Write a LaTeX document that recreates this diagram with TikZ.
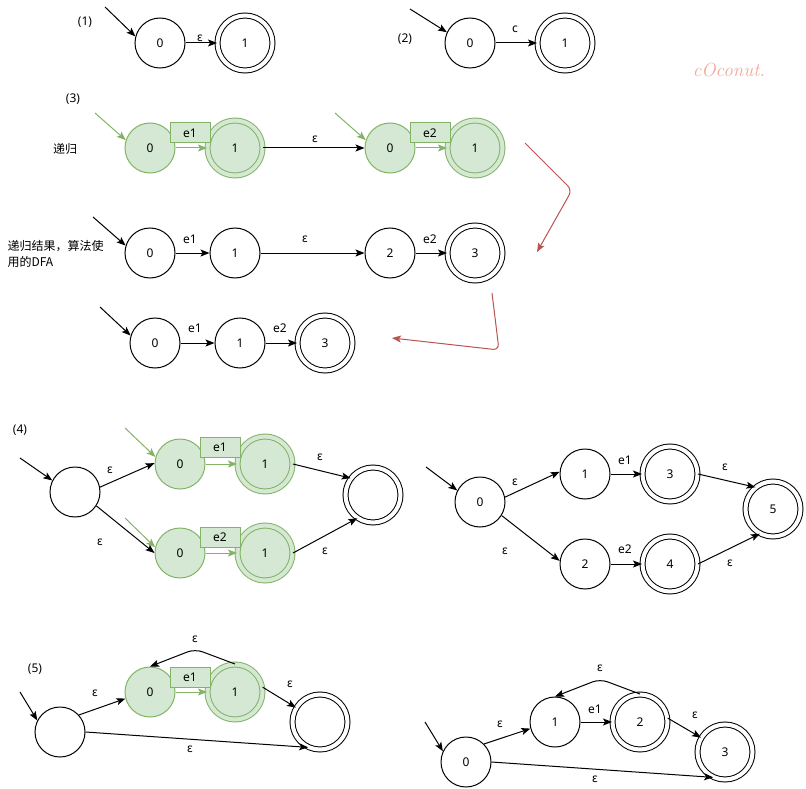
\documentclass[tikz,border=0pt]{standalone}
\usepackage{fontspec}
\setmainfont{Noto Sans}
\newfontfamily\cjk{Noto Sans CJK SC}
\newfontfamily\wmfont{Latin Modern Roman}
\usetikzlibrary{arrows.meta}
\definecolor{gfill}{HTML}{D5E8D4}
\definecolor{gline}{HTML}{82B366}
\definecolor{rline}{HTML}{B85450}
\definecolor{wm}{HTML}{F2A89A}
\begin{document}
\begin{tikzpicture}[x=1pt,y=-1pt,line width=1pt,
  font=\fontsize{12}{14}\selectfont,
  >={Stealth[length=9pt,width=7pt,inset=2pt]},
  st/.style={circle,draw,minimum size=50pt,inner sep=0pt},
  acc/.style={circle,draw,double,double distance=4pt,minimum size=55pt,inner sep=0pt},
  gst/.style={st,fill=gfill,draw=gline},
  gacc/.style={acc,fill=gfill,draw=gline,double=gfill},
  gbox/.style={rectangle,draw=gline,fill=gfill,minimum width=40pt,minimum height=20pt,inner sep=0pt},
  lbl/.style={inner sep=0pt},
  ar/.style={->},
  gar/.style={->,draw=gline},
  rar/.style={->,draw=rline,rounded corners=6pt}]
\useasboundingbox (0,0) rectangle (806,789);

% (1)
\node[lbl] (l1) at (85,22) {(1)};
\node[st] (a0) at (160,43) {0};
\node[acc] (a1) at (245,43) {1};
\coordinate (a0i) at (105,7);
\draw[ar] (a0i) -- (a0.165);
\draw[ar] (a0) -- (a1);
\node[lbl] (ae) at (200,38) {ε};

% (2)
\node[lbl] (l2) at (405,39) {(2)};
\node[st] (b0) at (470,43) {0};
\node[acc] (b1) at (565,43) {1};
\coordinate (b0i) at (410,9);
\draw[ar] (b0i) -- (b0.155);
\draw[ar] (b0) -- (b1);
\node[lbl] (bc) at (515,29) {c};

\node[lbl,text=wm,font=\wmfont\itshape\fontsize{19}{22}\selectfont] (wmk) at (729,70) {cOconut.};

% (3)
\node[lbl] (l3) at (73,99) {(3)};
\node[lbl,font=\cjk\fontsize{12}{14}\selectfont] (t1) at (65,149) {递归};
\node[gst] (c0) at (150,148) {0};
\node[gacc] (c1) at (235,148) {1};
\draw[gar] (c0) -- (c1);
\node[gbox] (c01) at (190,133) {e1};
\coordinate (c0i) at (95,113);
\draw[gar] (c0i) -- (c0.162);
\node[gst] (d0) at (390,148) {0};
\node[gacc] (d1) at (475,148) {1};
\draw[gar] (d0) -- (d1);
\node[gbox] (d01) at (430,133) {e2};
\coordinate (d0i) at (335,113);
\draw[gar] (d0i) -- (d0.162);
\draw[ar] (c1) -- (d0);
\node[lbl] (ce) at (315,139) {ε};

\node[lbl,font=\cjk\fontsize{12}{16}\selectfont,align=left,anchor=west] (t2) at (7,254) {递归结果，算法使\\用的DFA};
\node[st] (e0) at (150,253) {0};
\node[st] (e1) at (235,253) {1};
\node[st] (e2) at (390,253) {2};
\node[acc] (e3) at (475,253) {3};
\coordinate (e0i) at (93,217);
\draw[ar] (e0i) -- (e0.163);
\draw[ar] (e0) -- (e1);
\draw[ar] (e1) -- (e2);
\draw[ar] (e2) -- (e3);
\node[lbl] (ee1) at (190,239) {e1};
\node[lbl] (eeps) at (305,239) {ε};
\node[lbl] (ee2) at (430,239) {e2};

\node[st] (f0) at (155,343) {0};
\node[st] (f1) at (240,343) {1};
\node[acc] (f3) at (325,343) {3};
\coordinate (f0i) at (100,307);
\draw[ar] (f0i) -- (f0.163);
\draw[ar] (f0) -- (f1);
\draw[ar] (f1) -- (f3);
\node[lbl] (fe1) at (195,328) {e1};
\node[lbl] (fe2) at (280,328) {e2};

\coordinate (r1a) at (525,143);
\coordinate (r1b) at (572,190);
\coordinate (r1c) at (537,252);
\draw[rar] (r1a) -- (r1b) -- (r1c);
\coordinate (r2a) at (492,293);
\coordinate (r2b) at (499,350);
\coordinate (r2c) at (392,338);
\draw[rar] (r2a) -- (r2b) -- (r2c);

% (4) left
\node[lbl] (l4) at (20,430) {(4)};
\node[st] (s4) at (75,492) {};
\coordinate (s4i) at (20,458);
\draw[ar] (s4i) -- (s4.153);
\node[gst] (g0u) at (180,464) {0};
\node[gacc] (g1u) at (265,464) {1};
\draw[gar] (g0u) -- (g1u);
\node[gbox] (gbu) at (220,447) {e1};
\coordinate (g0ui) at (125,428);
\draw[gar] (g0ui) -- (g0u.164);
\node[gst] (g0l) at (180,553) {0};
\node[gacc] (g1l) at (265,553) {1};
\draw[gar] (g0l) -- (g1l);
\node[gbox] (gbl) at (220,537) {e2};
\coordinate (g0li) at (125,518);
\draw[gar] (g0li) -- (g0l.167);
\node[acc] (f4) at (373,495) {};
\draw[ar] (s4.11) -- (g0u.178);
\draw[ar] (s4.-33) -- (g0l.180);
\draw[ar] (g1u.east) -- (f4.143);
\draw[ar] (g1l.east) -- (f4.236);
\node[lbl] (ge1) at (110,470) {ε};
\node[lbl] (ge2) at (100,542) {ε};
\node[lbl] (ge3) at (320,457) {ε};
\node[lbl] (ge4) at (325,551) {ε};

% (4) right
\node[st] (h0) at (480,502) {0};
\node[st] (h1) at (585,474) {1};
\node[acc] (h3) at (670,474) {3};
\node[st] (h2) at (585,564) {2};
\node[acc] (h4) at (670,564) {4};
\node[acc] (h5) at (773,509) {5};
\coordinate (h0i) at (426,467);
\draw[ar] (h0i) -- (h0.153);
\draw[ar] (h0.11) -- (h1.175);
\draw[ar] (h0.-32) -- (h2.173);
\draw[ar] (h1) -- (h3);
\draw[ar] (h2) -- (h4);
\draw[ar] (h3.east) -- (h5.129);
\draw[ar] (h4.east) -- (h5.242);
\node[lbl] (he1) at (515,482) {ε};
\node[lbl] (he2) at (505,551) {ε};
\node[lbl] (he3) at (625,460) {e1};
\node[lbl] (he4) at (625,549) {e2};
\node[lbl] (he5) at (725,467) {ε};
\node[lbl] (he6) at (730,563) {ε};

% (5) left
\node[lbl] (l5) at (35,669) {(5)};
\node[st] (s5) at (60,732) {};
\coordinate (s5i) at (20,692);
\draw[ar] (s5i) -- (s5.153);
\node[gst] (k0) at (150,692) {0};
\node[gacc] (k1) at (235,692) {1};
\draw[gar] (k0) -- (k1);
\node[gbox] (kb) at (190,677) {e1};
\node[acc] (k2) at (320,722) {};
\draw[ar] (s5.42) -- (k0.195);
\draw[ar] (s5.east) -- (k2.245);
\coordinate (kp) at (195,649);
\draw[ar,rounded corners=8pt] (k1.north) -- (kp) -- (k0.north);
\draw[ar] (k1.10) -- (k2.149);
\node[lbl] (ke1) at (95,693) {ε};
\node[lbl] (ke2) at (190,749) {ε};
\node[lbl] (ke3) at (195,639) {ε};
\node[lbl] (ke4) at (290,684) {ε};

% (5) right
\node[st] (m0) at (466,762) {0};
\node[st] (m1) at (555,722) {1};
\node[acc] (m2) at (640,722) {2};
\node[acc] (m3) at (725,752) {3};
\coordinate (m0i) at (425,722);
\draw[ar] (m0i) -- (m0.155);
\draw[ar] (m0.45) -- (m1.195);
\draw[ar] (m0.east) -- (m3.245);
\draw[ar] (m1) -- (m2);
\coordinate (mp) at (600,679);
\draw[ar,rounded corners=8pt] (m2.north) -- (mp) -- (m1.north);
\draw[ar] (m2.8) -- (m3.149);
\node[lbl] (me1) at (500,724) {ε};
\node[lbl] (me2) at (595,779) {ε};
\node[lbl] (me3) at (600,668) {ε};
\node[lbl] (me4) at (595,709) {e1};
\node[lbl] (me5) at (695,715) {ε};
\end{tikzpicture}
\end{document}
